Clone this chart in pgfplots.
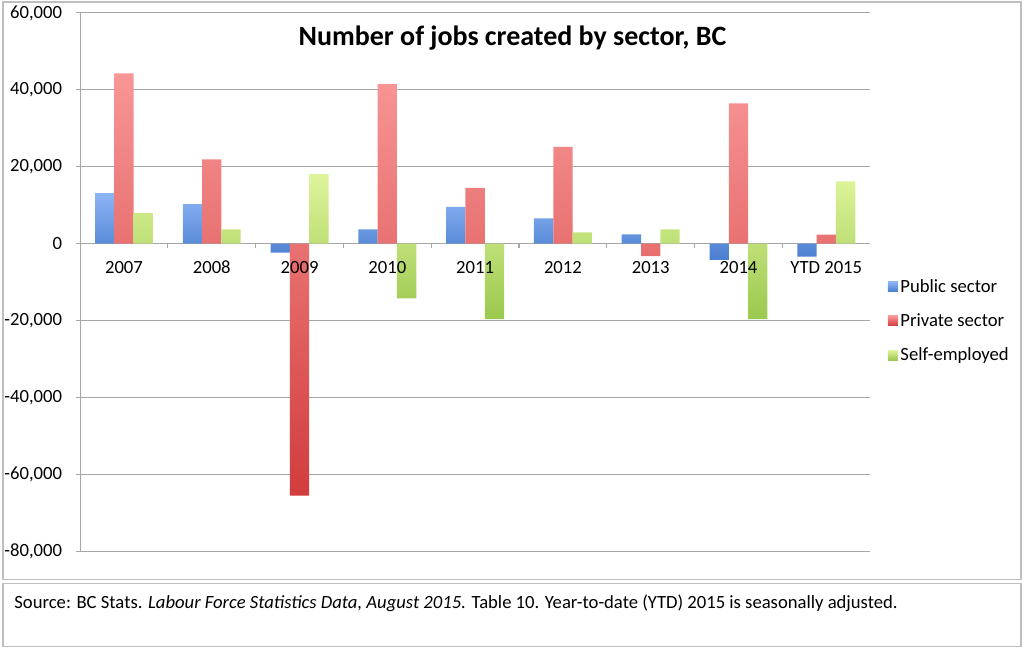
\documentclass[border=0pt]{standalone}
\usepackage{pgfplots}
\pgfplotsset{compat=1.18}
\usepackage{fontspec}
\setmainfont{Carlito}
\definecolor{bluetop}{HTML}{8DB5F5}
\definecolor{bluebot}{HTML}{4A7ECF}
\definecolor{redtop}{HTML}{F89696}
\definecolor{redbot}{HTML}{D23C3C}
\definecolor{greentop}{HTML}{DFF59C}
\definecolor{greenbot}{HTML}{9BC84E}
\definecolor{gridgray}{HTML}{A6A6A6}
\definecolor{boxgray}{HTML}{BFBFBF}
\tikzset{xlab/.style={anchor=base, font=\fontsize{14}{16}\selectfont, inner sep=0pt}}
\begin{document}
\begin{tikzpicture}
\path (0pt,0pt) rectangle (768pt,486.75pt);
\draw[boxgray, line width=1pt] (1.5pt,51.75pt) rectangle (765.75pt,485.25pt);
\draw[boxgray, line width=1pt] (1.5pt,1.5pt) rectangle (765.75pt,48.75pt);
\node[anchor=base west, font=\fontsize{14}{16}\selectfont, inner sep=0pt] at (9.75pt,30pt)
  {Source: BC Stats. \textit{Labour Force Statistics Data, August 2015.} Table 10. Year-to-date (YTD) 2015 is seasonally adjusted.};
\begin{axis}[
  at={(59.25pt,72.75pt)}, anchor=south west,
  scale only axis, width=593.25pt, height=404.25pt,
  xmin=-0.5, xmax=8.5, ymin=-80000, ymax=60000,
  enlargelimits=false,
  axis x line=middle, axis y line=left,
  axis line style={-, draw=gridgray, line width=0.8pt},
  ybar=0pt, bar width=14.5pt,
  xtick=\empty,
  ytick={-80000,-60000,...,60000},
  ytick style={draw=gridgray, line width=0.8pt},
  tick align=outside, major tick length=3pt,
  yticklabel style={xshift=-7pt, font=\fontsize{14}{16}\selectfont},
  ymajorgrids, grid style={gridgray, line width=0.8pt},
  scaled y ticks=false,
  /pgf/number format/.cd, 1000 sep={,}, assume math mode=true, /pgfplots/.cd,
  legend style={at={(rel axis cs:1.022,0.511)}, anchor=north west, draw=none, fill=none,
    font=\fontsize{14}{16}\selectfont, row sep=10.5pt, inner sep=0pt},
  legend cell align=left,
  mylegend/.style={legend image code/.code={\fill[##1] (0pt,-3.75pt) rectangle (7.5pt,3.75pt);}},
]
\addplot[draw=none, top color=bluetop, bottom color=bluebot, mylegend] coordinates {
 (0,13170) (1,10300) (2,-2300) (3,3700) (4,9600) (5,6600) (6,2440) (7,-4230) (8,-3370)};
\addplot[draw=none, top color=redtop, bottom color=redbot, mylegend] coordinates {
 (0,44300) (1,21900) (2,-65500) (3,41500) (4,14500) (5,25200) (6,-3200) (7,36460) (8,2340)};
\addplot[draw=none, top color=greentop, bottom color=greenbot, mylegend] coordinates {
 (0,7970) (1,3700) (2,18100) (3,-14200) (4,-19600) (5,2950) (6,3700) (7,-19600) (8,16200)};
\legend{Public sector, Private sector, Self-employed}
\pgfplotsinvokeforeach{0,...,9}{\draw[gridgray, line width=0.8pt] (axis cs:#1-0.5,0) -- ([yshift=-3pt]axis cs:#1-0.5,0);}
\node[xlab] at ([yshift=-22.5pt]axis cs:0,0) {2007};
\node[xlab] at ([yshift=-22.5pt]axis cs:1,0) {2008};
\node[xlab] at ([yshift=-22.5pt]axis cs:2,0) {2009};
\node[xlab] at ([yshift=-22.5pt]axis cs:3,0) {2010};
\node[xlab] at ([yshift=-22.5pt]axis cs:4,0) {2011};
\node[xlab] at ([yshift=-22.5pt]axis cs:5,0) {2012};
\node[xlab] at ([yshift=-22.5pt]axis cs:6,0) {2013};
\node[xlab] at ([yshift=-22.5pt]axis cs:7,0) {2014};
\node[xlab] at ([yshift=-22.5pt]axis cs:8,0) {YTD 2015};
\end{axis}
\node[font=\bfseries\fontsize{21}{24}\selectfont] at (384pt,458.25pt) {Number of jobs created by sector, BC};
\end{tikzpicture}
\end{document}
